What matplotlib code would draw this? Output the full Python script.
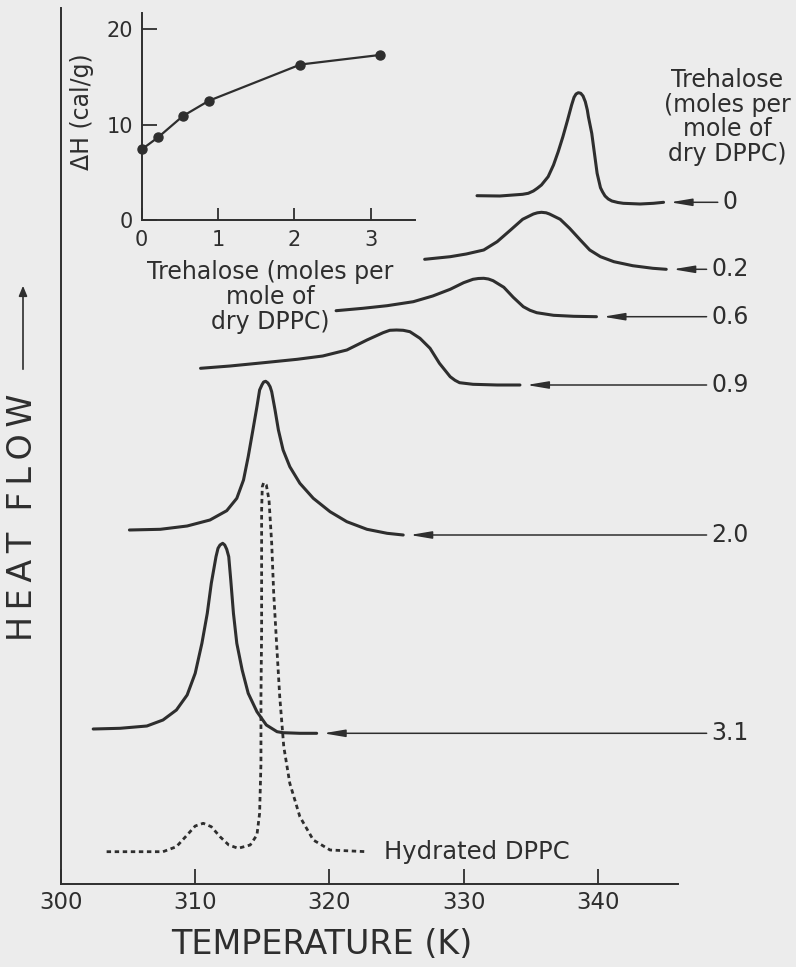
import matplotlib.pyplot as plt
from matplotlib.patches import FancyArrowPatch

plt.rcParams['font.family'] = ['DejaVu Sans']

# DSC traces: temperature (K) and heat flow (arbitrary units, traces offset)
t_0 = [331.0, 332.7, 334.4, 334.82, 335.2, 335.49, 335.8, 336.3, 336.7, 337.05, 337.4, 337.75, 338.05,
       338.23, 338.38, 338.55, 338.73, 338.9, 339.07, 339.22, 339.3, 339.55, 339.75, 339.95, 340.2,
       340.36, 340.54, 340.78, 341.05, 341.5, 341.9, 343.15, 344.15, 344.9]
hf_0 = [68.83, 68.8, 68.97, 69.07, 69.3, 69.57, 69.9, 70.73, 71.9, 73.23, 74.73, 76.4, 77.9,
        78.67, 79.0, 79.13, 79.07, 78.8, 78.23, 77.4, 76.73, 75.07, 73.07, 71.07, 69.63,
        69.2, 68.8, 68.5, 68.3, 68.15, 68.07, 68.0, 68.07, 68.17]

t_02 = [327.1, 329.0, 330.2, 331.5, 332.5, 333.5, 334.4, 335.2, 335.5, 335.8, 336.15, 336.4, 337.2,
        337.9, 338.7, 339.4, 340.2, 341.2, 342.6, 344.1, 345.1]
hf_02 = [62.47, 62.73, 63.0, 63.4, 64.23, 65.4, 66.47, 67.0, 67.12, 67.17, 67.12, 67.0, 66.47,
         65.57, 64.4, 63.4, 62.73, 62.23, 61.83, 61.57, 61.47]

t_06 = [320.5, 322.5, 324.3, 326.25, 327.7, 329.0, 330.0, 330.7, 331.1, 331.5, 331.85, 332.2, 333.0,
        333.7, 334.45, 334.95, 335.45, 336.7, 338.2, 339.9]
hf_06 = [57.33, 57.57, 57.83, 58.23, 58.8, 59.47, 60.13, 60.47, 60.55, 60.57, 60.5, 60.33, 59.67,
         58.67, 57.73, 57.37, 57.13, 56.87, 56.77, 56.73]

t_09 = [310.4, 312.6, 315.1, 317.6, 319.5, 321.3, 322.8, 324.0, 324.5, 325.0, 325.5, 326.0, 326.75,
        327.5, 328.2, 329.0, 329.36, 329.7, 330.7, 332.5, 334.2]
hf_09 = [51.57, 51.8, 52.13, 52.47, 52.8, 53.4, 54.4, 55.13, 55.37, 55.4, 55.37, 55.23, 54.57,
         53.57, 52.07, 50.73, 50.37, 50.13, 49.97, 49.9, 49.9]

t_20 = [305.1, 307.4, 309.4, 311.1, 312.35, 313.1, 313.6, 313.95, 314.3, 314.6, 314.8, 314.98, 315.1,
        315.25, 315.42, 315.58, 315.7, 315.95, 316.2, 316.55, 317.05, 317.8, 318.8, 320.05, 321.3,
        322.8, 324.3, 325.5]
hf_20 = [35.4, 35.47, 35.8, 36.4, 37.33, 38.57, 40.4, 42.73, 45.4, 47.73, 49.4, 49.93, 50.2,
         50.27, 50.1, 49.73, 49.23, 47.4, 45.4, 43.4, 41.73, 40.07, 38.57, 37.23, 36.23,
         35.47, 35.07, 34.9]

t_31 = [302.4, 304.4, 306.4, 307.6, 308.6, 309.4, 310.0, 310.5, 310.9, 311.2, 311.55, 311.7, 311.85,
        312.05, 312.2, 312.35, 312.5, 312.65, 312.85, 313.1, 313.5, 313.95, 314.6, 315.3, 316.1,
        316.55, 317.8, 319.05]
hf_31 = [15.5, 15.57, 15.8, 16.4, 17.4, 18.9, 21.07, 24.07, 27.07, 30.07, 32.73, 33.57, 33.9,
         34.07, 33.9, 33.47, 32.73, 30.4, 27.07, 24.07, 21.4, 19.07, 17.23, 15.9, 15.23,
         15.13, 15.07, 15.07]

t_hyd = [303.4, 307.6, 308.6, 309.4, 310.0, 310.6, 311.2, 311.85, 312.5, 313.2, 314.1, 314.6, 314.8,
         314.9, 314.9, 314.95, 314.95, 314.95, 315.0, 315.1, 315.3, 315.5, 315.7, 315.85, 316.05,
         316.3, 316.6, 317.05, 317.8, 318.8, 320.05, 322.8]
hf_hyd = [3.23, 3.23, 3.73, 4.9, 5.8, 6.07, 5.73, 4.73, 3.9, 3.57, 3.9, 4.9, 7.07,
          12.07, 18.73, 25.4, 32.4, 37.4, 39.73, 40.13, 39.9, 38.4, 34.07, 29.07, 24.4,
          18.73, 13.73, 10.07, 6.73, 4.4, 3.4, 3.23]

trace_labels = ['0', '0.2', '0.6', '0.9', '2.0', '3.1']

# inset: transition enthalpy vs trehalose content
trehalose = [0, 0.22, 0.54, 0.88, 2.08, 3.12]
delta_h = [7.4, 8.7, 10.9, 12.5, 16.3, 17.3]

ink = '#2e2e2e'
paper = '#ececec'
hs = '\u2009'  # thin space, the lettering of the original is widely tracked

fig = plt.figure(figsize=(7.96, 9.67), dpi=100, facecolor=paper)
ax = fig.add_axes([61 / 796, 83 / 967, 735 / 796, 876 / 967], facecolor='none')
ax.set_xlim(300, 354.77)
ax.set_ylim(0, 87.6)

traces = [(t_0, hf_0), (t_02, hf_02), (t_06, hf_06), (t_09, hf_09), (t_20, hf_20), (t_31, hf_31)]
for t, hf in traces:
    ax.plot(t, hf, color=ink, lw=2.2, solid_capstyle='round', solid_joinstyle='round')
ax.plot(t_hyd, hf_hyd, color=ink, lw=2.0, linestyle=(0, (1.6, 1.3)))
ax.text(324.1, hf_hyd[-1], 'Hydrated DPPC', fontsize=17.5, color=ink, ha='left', va='center')

# trace labels with arrows pointing back to each trace
label_x = 349.85
fig.canvas.draw()
renderer = fig.canvas.get_renderer()
for (t, hf), lab in zip(traces, trace_labels):
    txt = ax.text(label_x, hf[-1], lab, fontsize=17, color=ink, ha='center', va='center')
    bb = txt.get_window_extent(renderer).transformed(ax.transData.inverted())
    ax.annotate('', xy=(t[-1] + 0.5, hf[-1]), xytext=(bb.x0 - 0.35, hf[-1]),
                arrowprops=dict(arrowstyle='-|>,head_length=1.3,head_width=0.22', lw=1.1,
                                color=ink, shrinkA=0, shrinkB=0))

for s in ['top', 'right']:
    ax.spines[s].set_visible(False)
for s in ['left', 'bottom']:
    ax.spines[s].set_linewidth(1.4)
    ax.spines[s].set_color(ink)
ax.spines['bottom'].set_bounds(300, 346)
ax.set_xticks([300, 310, 320, 330, 340])
ax.tick_params(axis='x', direction='in', length=11, width=1.3, colors=ink, labelsize=16.5, pad=5)
ax.set_yticks([])
ax.text((322 - 61) / 735, -(945 - 884) / 876, 'TEMPERATURE (K)', transform=ax.transAxes,
        fontsize=24, color=ink, ha='center', va='center')

fig.text(23 / 796, 1 - 517 / 967, hs.join('HEAT') + '  ' + hs.join('FLOW'), rotation=90,
         fontsize=24, color=ink, ha='center', va='center')
fig.add_artist(FancyArrowPatch((23 / 796, 1 - 372 / 967), (23 / 796, 1 - 283 / 967),
                               transform=fig.transFigure,
                               arrowstyle='-|>,head_length=6,head_width=2.5', lw=1.2, color=ink))

fig.text(727 / 796, 1 - 117 / 967, 'Trehalose\n(moles per\nmole of\ndry DPPC)', fontsize=17,
         color=ink, ha='center', va='center', linespacing=1.05)

# inset
ins = fig.add_axes([141.7 / 796, 1 - 220 / 967, 273.3 / 796, 207 / 967], facecolor='none')
ins.plot(trehalose, delta_h, color=ink, lw=1.6, marker='o', markersize=6.5, clip_on=False)
ins.set_xlim(0, 3.58)
ins.set_ylim(0, 21.7)
for s in ['top', 'right']:
    ins.spines[s].set_visible(False)
for s in ['left', 'bottom']:
    ins.spines[s].set_linewidth(1.4)
    ins.spines[s].set_color(ink)
ins.set_xticks([0, 1, 2, 3])
ins.set_yticks([0, 10, 20])
ins.tick_params(axis='x', direction='in', length=9, width=1.3, colors=ink, labelsize=15, pad=7)
ins.tick_params(axis='y', direction='in', length=11, width=1.3, colors=ink, labelsize=15, pad=6)
fig.text(82 / 796, 1 - 112 / 967, 'ΔH (cal/g)', rotation=90,
         fontsize=17, color=ink, ha='center', va='center')
fig.text(270 / 796, 1 - 297 / 967, 'Trehalose (moles per\nmole of\ndry DPPC)', fontsize=17,
         color=ink, ha='center', va='center', linespacing=1.05)

fig.savefig('out.png', dpi=100, facecolor=paper)
